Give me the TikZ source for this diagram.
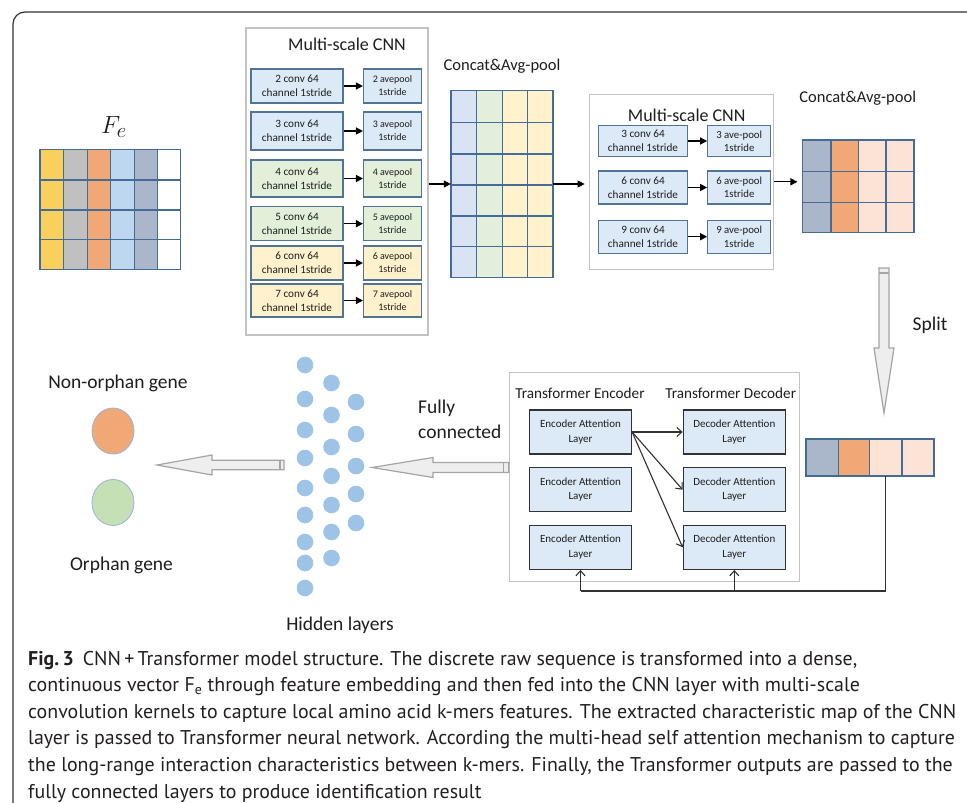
\documentclass[tikz,border=0pt]{standalone}
\usepackage{fontspec}
\setmainfont{Carlito}
\newfontfamily\capfont{PT Sans}
\usetikzlibrary{arrows.meta,calc,shapes.geometric}
\newcommand\myfs[2]{\fontsize{#1}{#2}\selectfont}
\definecolor{gridline}{RGB}{68,108,150}
\definecolor{cyel}{RGB}{250,208,92}
\definecolor{cgray}{RGB}{192,192,192}
\definecolor{corange}{RGB}{240,168,118}
\definecolor{cblue}{RGB}{189,215,238}
\definecolor{cgblue}{RGB}{170,183,202}
\definecolor{pblue}{RGB}{218,227,243}
\definecolor{pgreen}{RGB}{226,239,218}
\definecolor{pyel}{RGB}{255,242,204}
\definecolor{peach}{RGB}{251,228,213}
\definecolor{boxblue}{RGB}{220,233,246}
\definecolor{boxgreen}{RGB}{226,239,217}
\definecolor{boxyel}{RGB}{255,241,204}
\definecolor{boxedge}{RGB}{80,115,150}
\definecolor{attedge}{RGB}{50,50,50}
\definecolor{frameg}{RGB}{195,195,195}
\definecolor{hfill}{RGB}{238,238,238}
\definecolor{hedge}{RGB}{165,165,165}
\definecolor{dotc}{RGB}{157,195,230}
\definecolor{ogreen}{RGB}{197,224,180}
\definecolor{oedge}{RGB}{150,180,220}
\definecolor{txt}{RGB}{30,30,30}
\definecolor{capc}{RGB}{35,31,32}
\tikzset{
 gridl/.style={draw=gridline, line width=1.2pt},
 outerbox/.style={draw=frameg, line width=1.3pt, inner sep=0pt},
 convbox/.style={draw=boxedge, line width=1.1pt, align=center, inner sep=0pt, text=txt, font=\myfs{11.2}{14}},
 poolbox/.style={convbox, font=\myfs{10}{13}},
 poolboxb/.style={convbox, font=\myfs{10.8}{13.3}},
 attbox/.style={draw=attedge, line width=1.3pt, fill=boxblue, align=center, inner sep=0pt, minimum width=102, minimum height=44, text=txt, font=\myfs{11}{14.7}},
 title/.style={text=txt, font=\myfs{18}{20}, inner sep=0pt},
 ttitle/.style={text=txt, font=\myfs{15.2}{18}, inner sep=0pt},
 lab/.style={text=txt, font=\myfs{19.5}{24}, inner sep=0pt},
 blk/.style={draw=black, line width=1.4pt, -{Triangle[length=7pt,width=7pt]}},
 thinarr/.style={draw=attedge, line width=1.1pt, -{Straight Barb[length=5pt,width=9pt]}},
 fbline/.style={draw=attedge, line width=1.2pt},
 hollow/.style={draw=hedge, fill=hfill, line width=1.2pt, line join=miter},
 dot/.style={circle, fill=dotc, minimum size=16.6, inner sep=0pt},
 outc/.style={ellipse, draw=oedge, line width=0.8pt, minimum width=42, minimum height=46, inner sep=0pt},
 capline/.style={anchor=base west, inner sep=0pt, text=capc, font=\capfont\myfs{19.9}{24}},
}
% horizontal hollow arrow: #1 tail, #2 tip, #3 head length (signed, toward tail), #4 shaft half, #5 head half
\newcommand\harr[5]{\draw[hollow] ($(#1)+(0,-#4)$) -- ($(#2)+(#3,-#4)$) -- ($(#2)+(#3,-#5)$) -- (#2) -- ($(#2)+(#3,#5)$) -- ($(#2)+(#3,#4)$) -- ($(#1)+(0,#4)$) -- cycle;}
\newcommand\varr[5]{\draw[hollow] ($(#1)+(-#4,0)$) -- ($(#2)+(-#4,#3)$) -- ($(#2)+(-#5,#3)$) -- (#2) -- ($(#2)+(#5,#3)$) -- ($(#2)+(#4,#3)$) -- ($(#1)+(#4,0)$) -- cycle;}
\begin{document}
\begin{tikzpicture}[x=1pt,y=-1pt]
\useasboundingbox (0,0) rectangle (967,803);
\fill[white] (0,0) rectangle (967,803);
% frame
\draw[draw=attedge, line width=1.2pt, rounded corners=12pt] (13,803) -- (13,12) -- (968,12);

% ---------- F_e grid ----------
\node[inner sep=0pt] (fe) at (110.5,209.3) [minimum width=141, minimum height=120] {};
\node[inner sep=0pt, text=txt] (felab) at (114,127) {\myfs{29}{32}$F_e$};
\foreach \xa/\xb/\c in {40/63.3/cyel, 63.3/87.3/cgray, 87.3/110.7/corange, 110.7/134.3/cblue, 134.3/157.7/cgblue, 157.7/180.7/white}
  \foreach \ya/\yb in {149.3/180, 180/210, 210/239.3, 239.3/269.3}
    \draw[gridl, fill=\c] (\xa,\ya) rectangle (\xb,\yb);

% ---------- Multi-scale CNN 1 ----------
\node[outerbox, minimum width=182, minimum height=307] (cnn1) at (337,181.5) {};
\node[title] (t1) at (347,44) {Multi-scale CNN};
\foreach \i/\y/\h/\c/\k in {1/86/34/boxblue/2, 2/131/38/boxblue/3, 3/178.5/37/boxgreen/4, 4/223.7/34/boxgreen/5, 5/263/34/boxyel/6, 6/300.5/33/boxyel/7}{
  \node[convbox, fill=\c, minimum width=92, minimum height=\h] (conv\i) at (297,\y) {\k\ conv 64\\channel 1stride};
  \node[poolbox, fill=\c, minimum width=58, minimum height=\h] (pool\i) at (392.5,\y) {\k\ avepool\\1stride};
  \draw[blk] (conv\i.east) -- (pool\i.west);
}

% ---------- Concat 1 ----------
\node[inner sep=0pt, minimum width=102, minimum height=186.6] (g1) at (502,184) {};
\node[title, font=\myfs{16.5}{20}] (c1lab) at (502,66) {Concat\&Avg-pool};
\foreach \xa/\xb/\c in {451/476.7/pblue, 476.7/502.3/pgreen, 502.3/527.7/pyel, 527.7/553/pyel}
  \foreach \ya/\yb in {90.7/122.7, 122.7/154, 154/185, 185/216, 216/246.7, 246.7/277.3}
    \draw[gridl, fill=\c] (\xa,\ya) rectangle (\xb,\yb);
\draw[blk, line width=1.1pt] (cnn1.east |- g1.west) -- (g1.west);

% ---------- Multi-scale CNN 2 ----------
\node[outerbox, minimum width=184, minimum height=175] (cnn2) at (681.3,181.8) {};
\node[title] (t2) at (686.7,115.7) {Multi-scale CNN};
\foreach \i/\y/\h/\k in {1/141/31.4/3, 2/187.5/33/6, 3/236.7/33.3/9}{
  \node[convbox, fill=boxblue, minimum width=89.4, minimum height=\h] (cv\i) at (643,\y) {\k\ conv 64\\channel 1stride};
  \node[poolboxb, fill=boxblue, minimum width=63, minimum height=\h] (pl\i) at (739.2,\y) {\k\ ave-pool\\1stride};
  \draw[blk] (cv\i.east) -- (pl\i.west);
}
\draw[blk, line width=1.1pt, shorten >=4pt] (g1.east) -- (g1.east -| cnn2.west);

% ---------- Concat 2 ----------
\node[inner sep=0pt, minimum width=111.3, minimum height=92.3] (g2) at (858.3,186.2) {};
\node[title, font=\myfs{16.5}{20}] (c2lab) at (857.7,98) {Concat\&Avg-pool};
\foreach \xa/\xb/\c in {802.7/831/cgblue, 831/858.3/corange, 858.3/886/peach, 886/914/peach}
  \foreach \ya/\yb in {140/171.3, 171.3/202.3, 202.3/232.3}
    \draw[gridl, fill=\c] (\xa,\ya) rectangle (\xb,\yb);
\draw[blk, line width=1.1pt, shorten >=5pt] (cnn2.east) -- (cnn2.east -| g2.west);

% ---------- Split ----------
\coordinate (a4s) at (884,268);
\coordinate (a4t) at (884,413);
\varr{a4s}{a4t}{-65}{5}{10}
\draw[hedge, line width=1.2pt] ($(a4s)+(-5,5)$) -- ($(a4s)+(5,5)$);
\node[lab] (split) at (930,325) {Split};

\node[inner sep=0pt, minimum width=128, minimum height=37] (sv) at (870,457.5) {};
\foreach \xa/\xb/\c in {806/838.7/cgblue, 838.7/869.3/corange, 869.3/902/peach, 902/934/peach}
  \draw[gridl, fill=\c] (\xa,439) rectangle (\xb,476);

% ---------- Transformer ----------
\node[outerbox, minimum width=290, minimum height=209.4] (tb) at (654.3,477) {};
\node[ttitle] (te) at (580,393) {Transformer Encoder};
\node[ttitle] (td) at (730.7,393) {Transformer Decoder};
\foreach \i/\y in {1/432, 2/489.7, 3/547.3}{
  \node[attbox] (e\i) at (580.5,\y) {Encoder Attention\\Layer};
  \node[attbox] (d\i) at (734.3,\y) {Decoder Attention\\Layer};
}
\draw[thinarr] (e1.east) -- (d1.west);
\draw[thinarr] (e1.east) -- (d2.west);
\draw[thinarr] (e1.east) -- (d3.west);
\coordinate (fb) at (885.7,476);
\coordinate (fbb) at (885.7,591);
\draw[fbline] (fb) -- (fbb) -- (fbb -| e3.south);
\draw[thinarr] (fbb -| e3.south) -- (e3.south);
\draw[thinarr] (fbb -| d3.south) -- (d3.south);

% ---------- Fully connected ----------
\coordinate (a2s) at (tb.west |- 0,467.5);
\coordinate (a2t) at (372,467.5);
\harr{a2s}{a2t}{61}{5}{10}
\draw[hedge, line width=1.2pt] ($(a2s)+(-5,-5)$) -- ($(a2s)+(-5,5)$);
\node[lab, anchor=west] (fully) at (418,408) {Fully};
\node[lab, anchor=west] (conn) at (418,432) {connected};

% ---------- Hidden layers ----------
\foreach \y [count=\n] in {365,399,430,458,488,515,542,563,588}
  \node[dot] (ha\n) at (305,\y) {};
\foreach \y [count=\n] in {383,415,447,476,505,532,558}
  \node[dot] (hb\n) at (331.5,\y) {};
\foreach \y [count=\n] in {402,434,466,494,523}
  \node[dot] (hc\n) at (356,\y) {};
\node[lab] (hid) at (340,625) {Hidden layers};

\coordinate (a3s) at (284,465);
\coordinate (a3t) at (157,465);
\harr{a3s}{a3t}{55}{4.7}{10}
\draw[hedge, line width=1.2pt] ($(a3s)+(-4,-4.7)$) -- ($(a3s)+(-4,4.7)$);

% ---------- Outputs ----------
\node[outc, fill=corange] (non) at (113,431) {};
\node[outc, fill=ogreen] (orph) at (113,502.5) {};
\node[lab] (nonlab) at (118,383) {Non-orphan gene};
\node[lab] (orphlab) at (121.5,565) {Orphan gene};

% ---------- Caption ----------
\node[capline] (cap1) at (28,665) {\textbf{Fig.\,3}\hspace{9pt}CNN\,+\,Transformer model structure. The discrete raw sequence is transformed into a dense,};
\node[capline] (cap2) at (28,691.6) {continuous vector F\textsubscript{e} through feature embedding and then fed into the CNN layer with multi-scale};
\node[capline] (cap3) at (28,718.2) {convolution kernels to capture local amino acid k-mers features. The extracted characteristic map of the CNN};
\node[capline] (cap4) at (28,744.8) {layer is passed to Transformer neural network. According the multi-head self attention mechanism to capture};
\node[capline] (cap5) at (28,771.4) {the long-range interaction characteristics between k-mers. Finally, the Transformer outputs are passed to the};
\node[capline] (cap6) at (28,798) {fully connected layers to produce identification result};
\end{tikzpicture}
\end{document}
